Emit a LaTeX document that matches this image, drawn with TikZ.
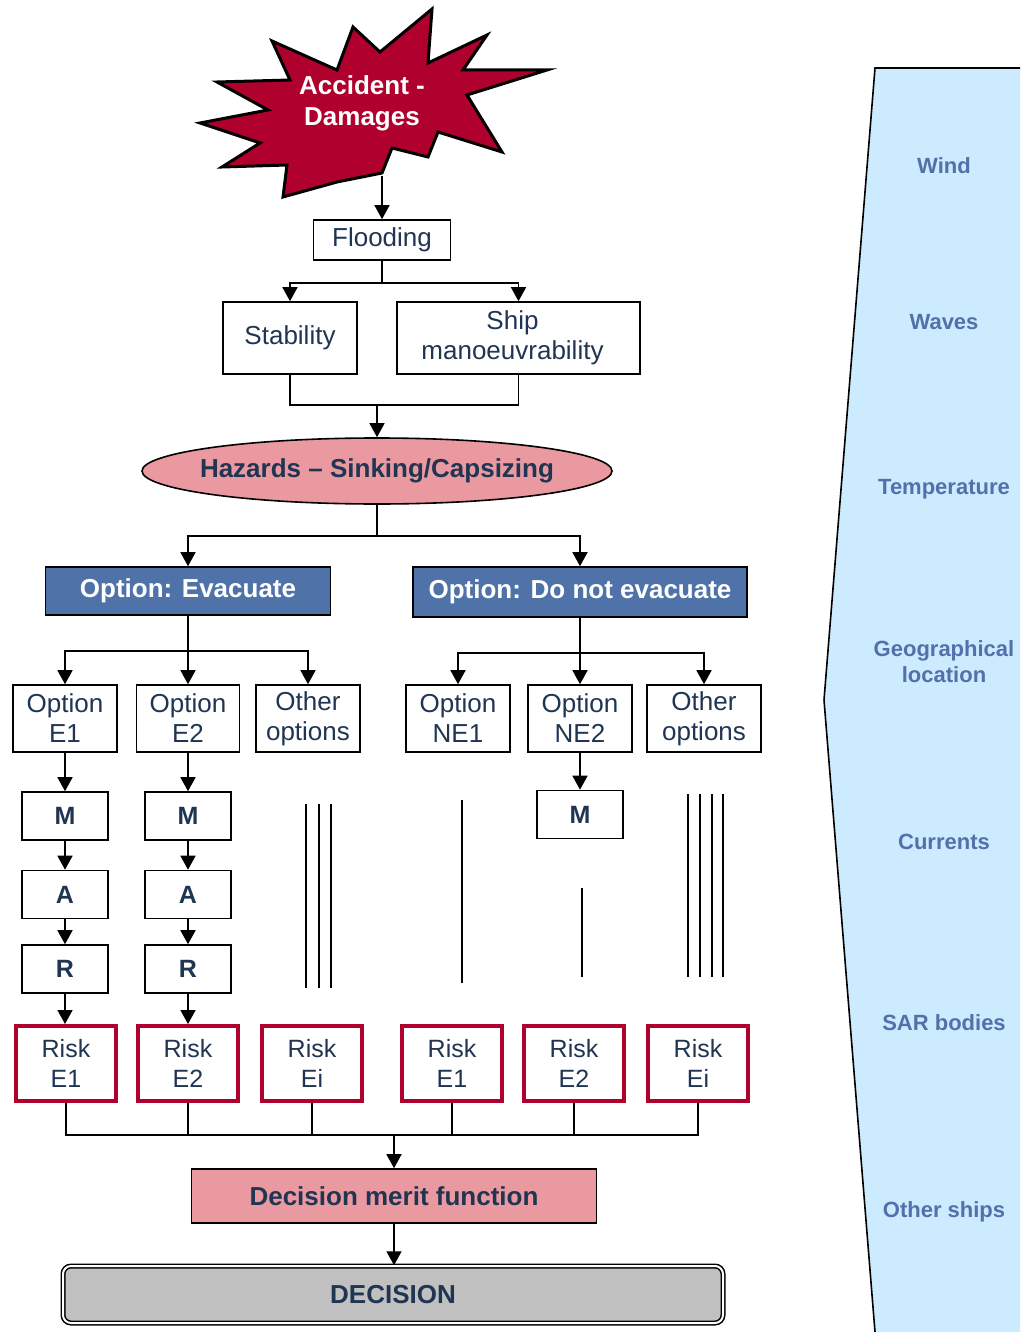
\documentclass[tikz,border=0pt]{standalone}
\usepackage{fontspec}
\setmainfont{Liberation Sans}
\usetikzlibrary{arrows.meta,shapes.geometric}
\definecolor{navy}{RGB}{31,53,82}
\definecolor{crimson}{RGB}{176,0,46}
\definecolor{rosy}{RGB}{235,153,160}
\definecolor{steel}{RGB}{79,114,168}
\definecolor{sky}{RGB}{204,235,255}
\definecolor{skytext}{RGB}{82,112,170}
\definecolor{silver}{RGB}{192,192,192}

\begin{document}
\begin{tikzpicture}[x=1pt,y=1pt,yscale=-1,
  arr/.style={-{Triangle[width=15pt,length=14pt]},line width=1.6pt},
  ln/.style={line width=1.6pt},
  box/.style={draw,line width=1.6pt,inner sep=0pt,align=center,text=navy,font=\fontsize{26}{30}\selectfont},
  mar/.style={box,minimum width=86pt,minimum height=48pt,font=\fontsize{25}{30}\selectfont\bfseries},
  optbox/.style={box,minimum width=104pt,minimum height=67pt},
  riskbox/.style={box,draw=crimson,line width=4pt,minimum width=100pt,minimum height=75pt,font=\fontsize{25}{30}\selectfont},
  bluebox/.style={box,fill=steel,text=white,font=\fontsize{26}{30}\selectfont\bfseries},
  factor/.style={text=skytext,align=center,font=\fontsize{22}{26}\selectfont\bfseries}
]
\useasboundingbox (0,0) rectangle (1020,1332);

%Shape: Polygon (external factors)
\fill[sky] (875,68) -- (1020,68) -- (1020,1332) -- (875,1332) -- (824,700) -- cycle;
\draw[ln] (1020,68) -- (875,68) -- (824,700) -- (875,1332);

% Text Node
\node[factor] (wind) at (944,166) {Wind};
\node[factor] (waves) at (944,322) {Waves};
\node[factor] (temp) at (944,489) {Temperature};
\node[factor] (geo) at (944,662) {Geographical\\location};
\node[factor] (curr) at (944,842) {Currents};
\node[factor] (sar) at (944,1023) {SAR bodies};
\node[factor] (ships) at (944,1212) {Other ships};

%Shape: Explosion
\draw[line width=3pt,line join=miter,fill=crimson] (272,41) -- (337,70) -- (353,27) -- (380,52) -- (432,9) -- (428,63) -- (487,35) -- (463,70) -- (547,70) -- (467,95) -- (502,152) -- (438,132) -- (428,157) -- (392,148) -- (382,173) -- (337,182) -- (283,197) -- (287,165) -- (222,167) -- (260,143) -- (200,123) -- (268,110) -- (217,82) -- (290,80) -- cycle;
\node[align=center,text=white,font=\fontsize{26}{31}\selectfont\bfseries] (acc) at (362,103) {Accident -\\Damages};
\coordinate (accb) at (382,176);

% Text Node
\node[box,minimum width=137pt,minimum height=40pt] (flood) at (382,240) {Flooding};
\node[box,minimum width=134pt,minimum height=72pt] (stab) at (290,338) {Stability};
\node[box,minimum width=243pt,minimum height=72pt] (ship) at (518.5,338) {\hspace*{-12pt}Ship\\\hspace*{-12pt}manoeuvrability};
\node[box,ellipse,fill=rosy,minimum width=470pt,minimum height=66pt,font=\fontsize{26}{30}\selectfont\bfseries] (haz) at (377,471) {\makebox[300pt]{Hazards -- Sinking/Capsizing}};
\node[bluebox,minimum width=285pt,minimum height=48pt] (evac) at (188,591) {Option: Evacuate};
\node[bluebox,minimum width=334pt,minimum height=50pt] (noevac) at (580,592) {Option: Do not evacuate};

% Text Node
\node[optbox] (oe1) at (65,718.5) {Option\\E1};
\node[optbox,minimum width=103pt] (oe2) at (188,718.5) {Option\\E2};
\node[optbox] (oeo) at (308,718.5) {Other\\options};
\node[optbox] (one1) at (458,718.5) {Option\\NE1};
\node[optbox] (one2) at (580,718.5) {Option\\NE2};
\node[optbox,minimum width=114pt] (oneo) at (704,718.5) {Other\\options};

% Text Node
\node[mar] (m1) at (65,816) {M};
\node[mar] (a1) at (65,894.5) {A};
\node[mar] (r1) at (65,969) {R};
\node[mar] (m2) at (188,816) {M};
\node[mar] (a2) at (188,894.5) {A};
\node[mar] (r2) at (188,969) {R};
\node[mar] (mn2) at (580,814.5) {M};

% Text Node
\node[riskbox] (rk1) at (66,1063.5) {Risk\\E1};
\node[riskbox] (rk2) at (188,1063.5) {Risk\\E2};
\node[riskbox] (rki) at (312,1063.5) {Risk\\Ei};
\node[riskbox] (rn1) at (452,1063.5) {Risk\\E1};
\node[riskbox] (rn2) at (574,1063.5) {Risk\\E2};
\node[riskbox] (rni) at (698,1063.5) {Risk\\Ei};

\node[box,fill=rosy,minimum width=405pt,minimum height=54pt,font=\fontsize{26}{30}\selectfont\bfseries] (merit) at (394,1196) {Decision merit function};
\node[box,fill=silver,rounded corners=8pt,double=white,double distance=2pt,line width=1.5pt,minimum width=660pt,minimum height=57pt,font=\fontsize{26}{30}\selectfont\bfseries] (dec) at (393,1294.5) {DECISION};

%Straight Lines
\draw[arr] (accb) -- (flood.north);
\draw[arr] (flood.south) -- ++(0,22) -| (stab.north);
\draw[arr] (flood.south) -- ++(0,22) -| (ship.north);
\coordinate (hj) at (377,405);
\draw[ln] (stab.south) |- (hj);
\draw[ln] (ship.south) |- (hj);
\draw[arr] (hj) -- (haz.north);
\draw[arr] (haz.south) -- ++(0,31) -| (evac.north);
\draw[arr] (haz.south) -- ++(0,31) -| (noevac.north);

\draw[arr] (evac.south) -- ++(0,35) -| (oe1.north);
\draw[arr] (evac.south) -- (oe2.north);
\draw[arr] (evac.south) -- ++(0,35) -| (oeo.north);
\draw[arr] (noevac.south) -- ++(0,35) -| (one1.north);
\draw[arr] (noevac.south) -- (one2.north);
\draw[arr] (noevac.south) -- ++(0,35) -| (oneo.north);

\draw[arr] (oe1) -- (m1);
\draw[arr] (m1) -- (a1);
\draw[arr] (a1) -- (r1);
\draw[arr] (r1.south) -- (r1.south |- rk1.north);
\draw[arr] (oe2) -- (m2);
\draw[arr] (m2) -- (a2);
\draw[arr] (a2) -- (r2);
\draw[arr] (r2.south) -- (rk2.north);
\draw[arr] (one2) -- (mn2);

%Straight Lines (other paths)
\foreach \x in {306,319,331} \draw[ln] (\x,804) -- (\x,988);
\draw[ln] (462,800) -- (462,983);
\draw[ln] (582,888) -- (582,977);
\foreach \x in {688,700,712,723} \draw[ln] (\x,794) -- (\x,977);

%Straight Lines (to merit function)
\coordinate (bus) at (394,1135);
\foreach \n in {rk1,rk2,rki,rn1,rn2,rni} \draw[ln] (\n.south) |- (bus);
\draw[arr] (bus) -- (merit.north);
\draw[arr] (merit.south) -- (merit.south |- dec.north);

\end{tikzpicture}
\end{document}
